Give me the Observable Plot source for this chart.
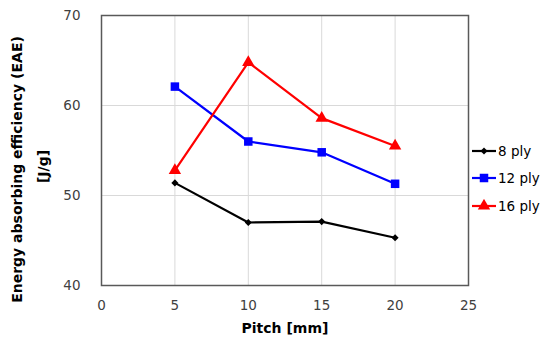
<!DOCTYPE html>
<html>
<head>
<meta charset="utf-8">
<script src="https://cdn.jsdelivr.net/npm/d3@7"></script>
<script src="https://cdn.jsdelivr.net/npm/@observablehq/plot@0.6"></script>
<style>
  html, body { margin: 0; padding: 0; background: #fff; }
  #wrap { position: relative; width: 550px; height: 347px; font-family: "DejaVu Sans", Verdana, sans-serif; }
  #legend { position: absolute; left: 472px; top: 137px; }
  .item { display: flex; align-items: center; height: 27.5px; font-size: 13.5px; color: #000; }
  .item svg { display: block; margin-right: 1px; }
</style>
</head>
<body>
<div id="wrap"><div id="chart"></div><div id="legend"></div></div>
<script>
const pitch = [5, 10, 15, 20];
const seriesNames = ["8 ply", "12 ply", "16 ply"];
const eae8 = [51.4, 47.0, 47.1, 45.3];
const eae12 = [62.1, 56.0, 54.8, 51.3];
const eae16 = [52.8, 64.8, 58.6, 55.5];
const colors = ["#000000", "#0000ff", "#ff0000"];
const symbols = ["diamond2", "square", "triangle"];
const symbolR = [3.2, 4.8, 4.6];
const xTicks = [0, 5, 10, 15, 20, 25];
const yTicks = [40, 50, 60, 70];
const xTitle = "Pitch [mm]";
const yTitle1 = "Energy absorbing efficiency (EAE)";
const yTitle2 = "[J/g]";

const valuesBySeries = [eae8, eae12, eae16];
const data = [];
seriesNames.forEach((s, i) => pitch.forEach((p, j) => data.push({series: s, pitch: p, eae: valuesBySeries[i][j]})));

const font = "DejaVu Sans, Verdana, sans-serif";
const marks = [
  Plot.gridX([5, 10, 15, 20], {stroke: "#d9d9d9", strokeOpacity: 1, strokeWidth: 1}),
  Plot.gridY([50, 60], {stroke: "#d9d9d9", strokeOpacity: 1, strokeWidth: 1}),
  Plot.frame({stroke: "#595959", strokeWidth: 1.5}),
  Plot.axisX(xTicks, {tickSize: 0, tickPadding: 15, fontSize: 13.5, fill: "#404040", label: null}),
  Plot.axisY(yTicks, {tickSize: 0, tickPadding: 21, fontSize: 13.5, fill: "#404040", label: null}),
  Plot.text([xTitle], {frameAnchor: "bottom", dy: 43, text: d => d, fontSize: 14, fontWeight: "bold", fill: "#000", textAnchor: "middle", lineAnchor: "middle"}),
  Plot.text([yTitle1], {frameAnchor: "left", rotate: -90, dx: -84, dy: 19, text: d => d, fontSize: 14, fontWeight: "bold", fill: "#000", textAnchor: "middle", lineAnchor: "middle"}),
  Plot.text([yTitle2], {frameAnchor: "left", rotate: -90, dx: -58, dy: 16, text: d => d, fontSize: 14, fontWeight: "bold", fill: "#000", textAnchor: "middle", lineAnchor: "middle"})
];
seriesNames.forEach((s, i) => {
  const d = data.filter(r => r.series === s);
  marks.push(Plot.line(d, {x: "pitch", y: "eae", stroke: colors[i], strokeWidth: 2.2}));
  marks.push(Plot.dot(d, {x: "pitch", y: "eae", symbol: symbols[i], fill: colors[i], stroke: "none", r: symbolR[i]}));
});

const chart = Plot.plot({
  width: 550,
  height: 347,
  marginLeft: 101,
  marginRight: 82,
  marginTop: 15,
  marginBottom: 62,
  style: {fontFamily: font, background: "#fff"},
  x: {domain: [0, 25], ticks: xTicks},
  y: {domain: [40, 70], ticks: yTicks},
  marks
});
document.getElementById("chart").appendChild(chart);

const legend = d3.select("#legend");
const symMap = {diamond2: d3.symbolDiamond2, square: d3.symbolSquare, triangle: d3.symbolTriangle};
seriesNames.forEach((s, i) => {
  const item = legend.append("div").attr("class", "item");
  const svg = item.append("svg").attr("width", 25).attr("height", 14);
  svg.append("line").attr("x1", 0).attr("x2", 24).attr("y1", 7).attr("y2", 7).attr("stroke", colors[i]).attr("stroke-width", 2.2);
  svg.append("path").attr("transform", "translate(12,7)")
    .attr("d", d3.symbol(symMap[symbols[i]], Math.PI * symbolR[i] * symbolR[i])())
    .attr("fill", colors[i]);
  item.append("span").text(s);
});
</script>
</body>
</html>
